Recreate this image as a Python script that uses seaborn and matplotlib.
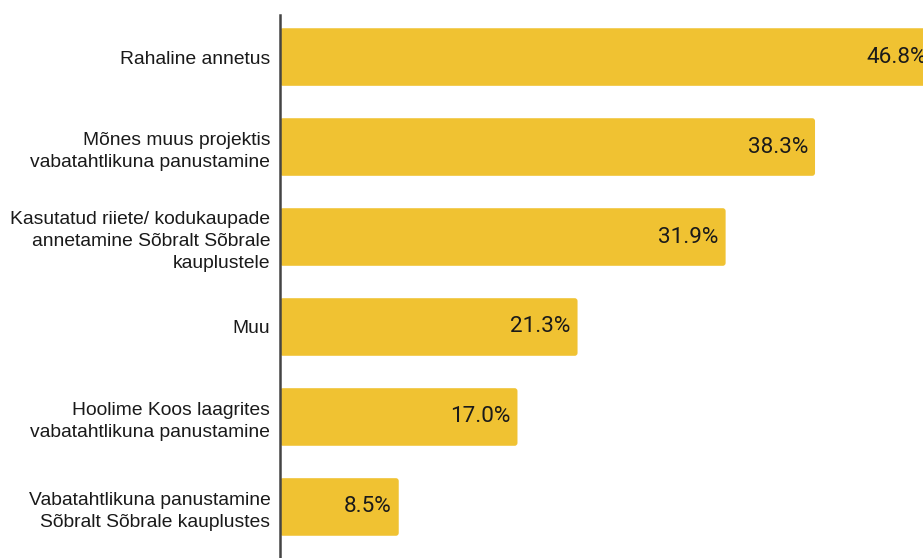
import matplotlib
matplotlib.use("Agg")
import matplotlib.pyplot as plt
from matplotlib.patches import FancyBboxPatch
import seaborn as sns
import pandas as pd

categories = [
    "Rahaline annetus",
    "Mõnes muus projektis\nvabatahtlikuna panustamine",
    "Kasutatud riiete/ kodukaupade\nannetamine Sõbralt Sõbrale\nkauplustele",
    "Muu",
    "Hoolime Koos laagrites\nvabatahtlikuna panustamine",
    "Vabatahtlikuna panustamine\nSõbralt Sõbrale kauplustes",
]
values = [46.8, 38.3, 31.9, 21.3, 17.0, 8.5]
value_labels = ["46.8%", "38.3%", "31.9%", "21.3%", "17.0%", "8.5%"]

df = pd.DataFrame({"category": categories, "value": values})

sns.set_theme(style="white")
plt.rcParams["font.family"] = ["Liberation Sans", "DejaVu Sans"]

fig = plt.figure(figsize=(9.23, 5.58), dpi=100)
ax = fig.add_axes([280 / 923, 0.0, 1 - 280 / 923, 1 - 15 / 558])

sns.barplot(data=df, y="category", x="value", orient="h", color="#F0C232",
            saturation=1, width=0.64, ax=ax)

# give the bars slightly rounded corners
for p in list(ax.patches):
    x0, y0, w, h = p.get_x(), p.get_y(), p.get_width(), p.get_height()
    fc = p.get_facecolor()
    p.remove()
    ax.add_patch(FancyBboxPatch((x0, y0), w, h,
                                boxstyle="round,pad=0,rounding_size=0.2",
                                mutation_aspect=0.16, facecolor=fc,
                                edgecolor="none", zorder=1))

ax.set_xlim(0, 46.03)
ax.set_ylim(5.567, -0.467)
ax.set_xlabel("")
ax.set_ylabel("")
ax.set_xticks([])
for s in ["top", "right", "bottom"]:
    ax.spines[s].set_visible(False)
ax.spines["left"].set_color("#444444")
ax.spines["left"].set_linewidth(1.8)
ax.spines["left"].set_zorder(3)
ax.tick_params(axis="y", length=0, pad=7, labelsize=13.9, labelcolor="#1a1a1a")
for lab in ax.get_yticklabels():
    lab.set_linespacing(1.36)
    lab.set_horizontalalignment("right")
    lab.set_multialignment("right")

for i, (v, t) in enumerate(zip(values, value_labels)):
    ax.annotate(t, xy=(v, i), xytext=(-5, 0), textcoords="offset points",
                ha="right", va="center", fontsize=16.2, color="#1a1a1a",
                family=["Roboto", "DejaVu Sans"], annotation_clip=False,
                zorder=4)

fig.savefig("out.png", dpi=100)
